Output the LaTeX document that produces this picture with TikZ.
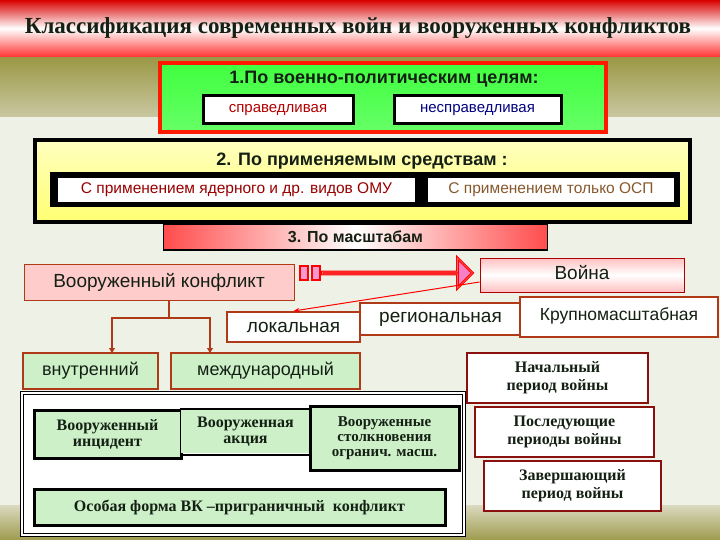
\documentclass[tikz,border=0pt]{standalone}
\usepackage{fontspec}
\setmainfont{Liberation Sans}
\newfontfamily\serifb{Liberation Serif}
\usetikzlibrary{shapes.arrows,arrows.meta}
\definecolor{bg}{HTML}{EEF2E6}
\definecolor{grass}{HTML}{A6A262}
\definecolor{txt}{HTML}{142014}
\definecolor{brd}{HTML}{B03A18}
\definecolor{lgreen}{HTML}{CDF0C8}
\definecolor{dred}{HTML}{8A1010}
\tikzset{
 box/.style={draw,inner sep=0pt,text=txt,align=center},
 brownbox/.style={box,draw=brd,line width=2pt,fill=white},
 blkbox/.style={box,draw=black,line width=3pt,fill=lgreen,font=\serifb\bfseries\fontsize{16}{16}\selectfont},
 perbox/.style={box,draw=dred,line width=2.5pt,fill=white,font=\serifb\bfseries\fontsize{16}{18}\selectfont},
 conn/.style={draw=brd,line width=2pt,-{Triangle[length=5pt,width=6pt]}}
}
\begin{document}
\begin{tikzpicture}[x=1pt,y=-1pt]
\useasboundingbox (0,0) rectangle (720,540);
\fill[bg] (0,0) rectangle (720,540);
\shade[top color=grass!70!olive,bottom color=grass!60!white] (0,57) rectangle (720,117);
\shade[top color=grass!40!white,bottom color=grass!80!olive] (0,505) rectangle (720,540);
\shade[top color=red!85!black,bottom color=red!80,middle color=white] (0,0) rectangle (720,57);
\node[text=txt,font=\serifb\bfseries\fontsize{23}{24}\selectfont] (title) at (358,28) {Классификация современных войн и вооруженных конфликтов};
% box 1
\node[box,draw=red!80!orange,line width=4pt,top color=green!75!white,bottom color=green!60!white,minimum width=446,minimum height=69] (b1) at (383,97.5) {};
\node[text=txt,font=\bfseries\fontsize{18}{19}\selectfont] (b1t) at (384,79) {1.По военно-политическим целям:};
\node[box,draw=black,line width=3pt,fill=white,minimum width=150,minimum height=28,text=red!70!black,font=\fontsize{15}{16}\selectfont] (s1) at (278,110) {справедливая};
\node[box,draw=black,line width=3pt,fill=white,minimum width=167,minimum height=28,text=blue!50!black,font=\fontsize{15}{16}\selectfont] (s2) at (477.5,110) {несправедливая};
% box 2
\node[box,draw=black,line width=4pt,top color=yellow!25!white,bottom color=yellow!55!white,minimum width=655,minimum height=82] (b2) at (362.5,181) {};
\node[text=txt,font=\bfseries\fontsize{18}{19}\selectfont] (b2t) at (362,161) {2. По применяемым средствам :};
\fill[black] (50,172) rectangle (680,207);
\node[box,fill=white,minimum width=358,minimum height=25,text=red!60!black,font=\fontsize{15.5}{16}\selectfont] (m1) at (236.5,189.5) {С применением ядерного и др. видов ОМУ};
\node[box,fill=white,minimum width=247,minimum height=25,text=brown!70!black,font=\fontsize{15.5}{16}\selectfont] (m2) at (551,189.5) {С применением только ОСП};
% box 3
\node[box,draw=black,line width=1.5pt,left color=red!70,right color=red!70,middle color=white,minimum width=384,minimum height=26,font=\bfseries\fontsize{16}{17}\selectfont] (b3) at (355.5,237) {3. По масштабам};
% middle
\node[box,draw=brd,line width=1pt,fill=red!20,minimum width=270,minimum height=36,font=\fontsize{19}{20}\selectfont] (vk) at (159,282) {Вооруженный конфликт};
\node[box,draw=red!70!black,line width=1pt,top color=red!25,bottom color=red!25,middle color=white,minimum width=204,minimum height=34,font=\fontsize{19}{20}\selectfont] (war) at (582,275) {\raisebox{6pt}{Война}};
\node[single arrow,draw=red,double=red!60,line width=1pt,fill=magenta!50,minimum height=150,minimum width=30,single arrow head extend=7pt,inner sep=0pt] (arr) at (397,273) {};
\node[draw=red,line width=2pt,fill=magenta!40,minimum width=8,minimum height=14,inner sep=0pt] (bar1) at (304,273) {};
\node[draw=red,line width=2pt,fill=magenta!40,minimum width=8,minimum height=14,inner sep=0pt] (bar2) at (316,273) {};
\node[brownbox,minimum width=133,minimum height=30,font=\fontsize{19}{20}\selectfont] (loc) at (293.5,327) {локальная};
\node[brownbox,minimum width=161,minimum height=32,font=\fontsize{19}{20}\selectfont] (reg) at (440.5,319) {региональная};
\node[brownbox,minimum width=198,minimum height=40,font=\fontsize{17.5}{18}\selectfont] (krup) at (619,317) {\raisebox{6pt}{Крупномасштабная}};
\draw[red,line width=1pt,-{Stealth[length=6pt]}] ([yshift=-7pt]war.west) -- (loc.north);
% tree
\node[box,draw=brd,line width=2pt,fill=lgreen,minimum width=135,minimum height=36,font=\fontsize{18}{19}\selectfont] (vn) at (90.5,371) {\raisebox{4pt}{внутренний}};
\node[box,draw=brd,line width=2pt,fill=lgreen,minimum width=189,minimum height=36,font=\fontsize{18}{19}\selectfont] (mn) at (265.5,371) {\raisebox{4pt}{международный}};
\coordinate (j) at (169,318);
\draw[brd,line width=2pt] (vk.south -| j) -- (j);
\draw[conn] (j) -| (112,353);
\draw[conn] (j) -| (210,353);
% bottom-left panel
\node[box,draw=black,double,double distance=2pt,line width=1pt,fill=white,minimum width=442,minimum height=142] (panel) at (243,464) {};
\node[blkbox,minimum width=147,minimum height=48] (i1) at (107.5,434) {Вооруженный\\инцидент};
\node[blkbox,minimum width=129,minimum height=43,draw=none] (i2) at (245.5,431.5) {Вооруженная\\акция};
\draw[black,line width=2pt] (i2.north west) -- (i2.north east) (i2.south west) -- (i2.south east);
\node[blkbox,minimum width=149,minimum height=64,font=\serifb\bfseries\fontsize{15}{15}\selectfont] (i3) at (384.5,438) {Вооруженные\\столкновения\\огранич. масш.};
\node[blkbox,minimum width=411,minimum height=36,font=\serifb\bfseries\fontsize{16}{17}\selectfont] (osob) at (239.5,507) {Особая форма ВК –приграничный\ \ конфликт};
% right
\node[perbox,minimum width=181,minimum height=50] (p1) at (557.5,378) {Начальный\\период войны};
\node[perbox,minimum width=179,minimum height=50] (p2) at (564.5,432) {Последующие\\периоды войны};
\node[perbox,minimum width=177,minimum height=50] (p3) at (572.5,486) {Завершающий\\период войны};
\end{tikzpicture}
\end{document}
